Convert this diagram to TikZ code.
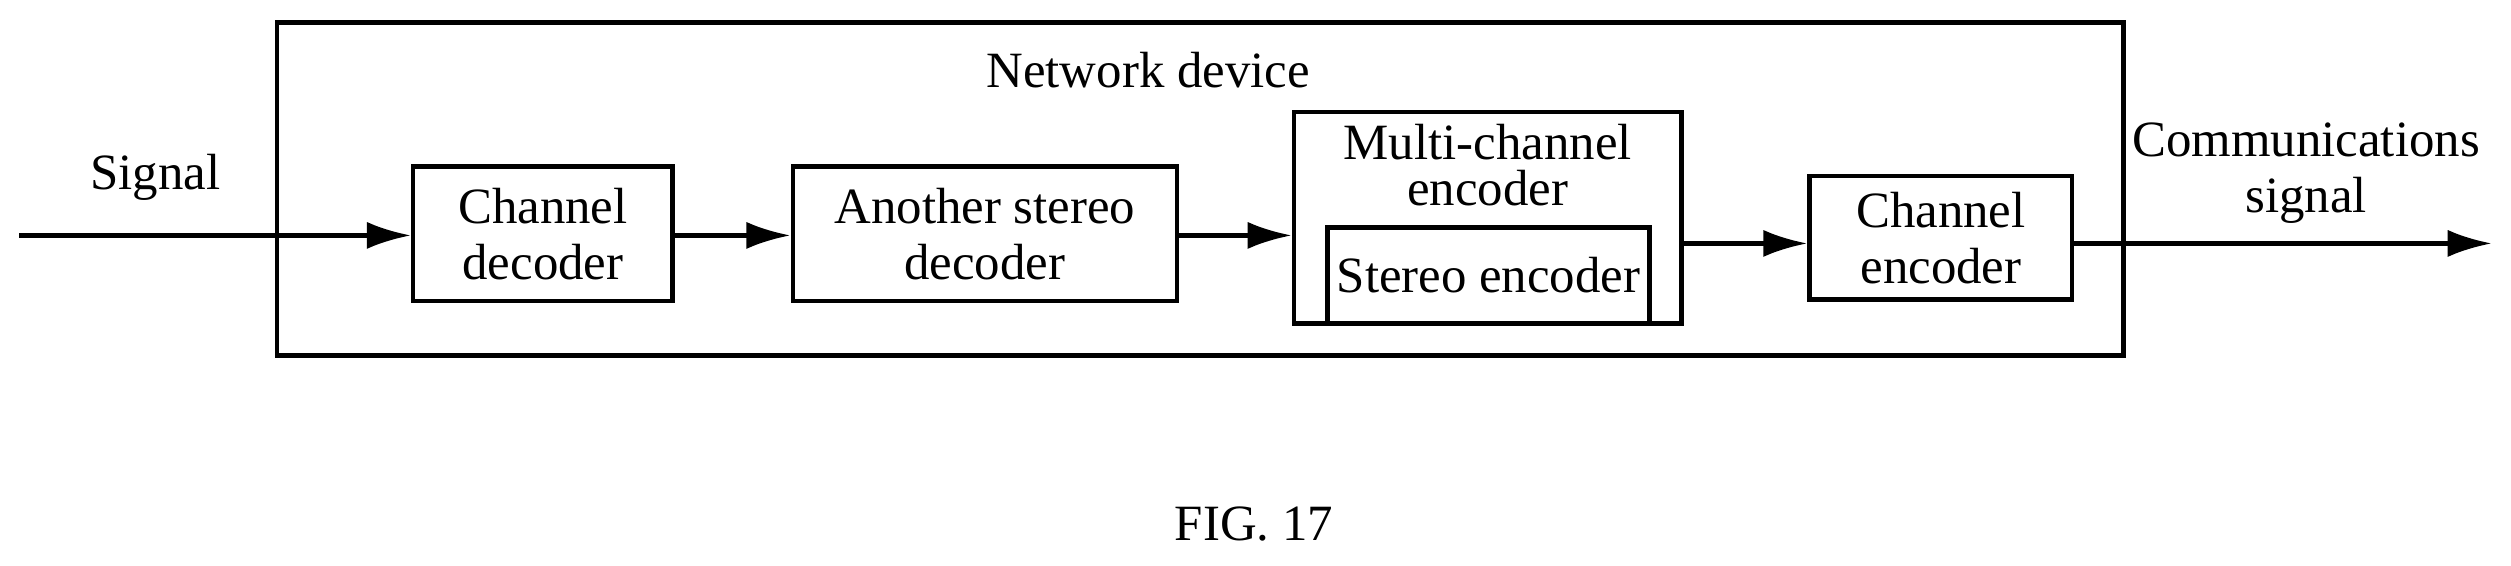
\documentclass[tikz,border=0pt]{standalone}
\usepackage{fontspec}
\setmainfont{Liberation Serif}
\usetikzlibrary{arrows.meta}
\begin{document}
\begin{tikzpicture}[x=0.0166cm,y=-0.0166cm,
  every node/.style={font=\fontsize{15}{16.5}\selectfont, inner sep=0},
  box/.style={draw, line width=1.3pt, align=center},
  arr/.style={line width=1.3pt, -{Latex[length=13pt,width=8pt]}}]
\useasboundingbox (0,0) rectangle (1568,353);
\node[box, minimum width=1153*0.0166cm, minimum height=208*0.0166cm] (nd) at (749.5,118) {};
\node (ndl) at (717,44) {Network device};
\node[box, minimum width=162*0.0166cm, minimum height=84*0.0166cm] (cd) at (339,146) {Channel\\decoder};
\node[box, minimum width=240*0.0166cm, minimum height=84*0.0166cm] (asd) at (615,146) {Another stereo\\decoder};
\node[box, minimum width=242*0.0166cm, minimum height=132*0.0166cm] (mce) at (929,136) {};
\node[align=center] (mcl) at (929,103) {Multi-channel\\[-3pt]encoder};
\node[box, minimum width=201*0.0166cm, minimum height=60*0.0166cm] (se) at (929.5,172) {Stereo encoder};
\node[box, minimum width=164*0.0166cm, minimum height=77*0.0166cm] (ce) at (1212,148.5) {Channel\\encoder};
\coordinate (in) at (12,147);
\coordinate (out) at (1556,152);
\node (sig) at (97,111) {Signal};
\node[align=center] (csig) at (1440,108) {Communications\\signal};
\node (fig) at (783,327) {FIG. 17};
\draw[arr] (in) -- (cd.west|-in);
\draw[arr] (cd.east|-in) -- (asd.west|-in);
\draw[arr] (asd.east|-in) -- (mce.west|-in);
\draw[arr] (mce.east|-out) -- (ce.west|-out);
\draw[arr] (ce.east|-out) -- (out);
\end{tikzpicture}
\end{document}
